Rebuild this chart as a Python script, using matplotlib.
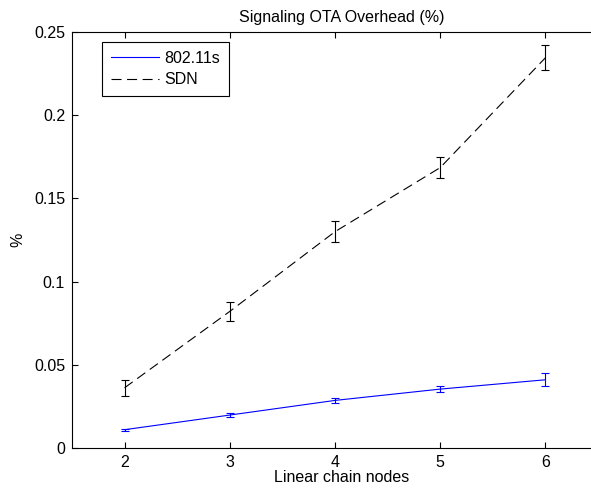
import matplotlib
matplotlib.use("Agg")
import matplotlib.pyplot as plt

# data
nodes = [2, 3, 4, 5, 6]
mesh_vals = [0.0110, 0.0198, 0.0286, 0.0354, 0.0410]
mesh_err = [0.0005, 0.0010, 0.0014, 0.0020, 0.0038]
sdn_vals = [0.0362, 0.0821, 0.1300, 0.1685, 0.2345]
sdn_err = [0.0047, 0.0057, 0.0064, 0.0064, 0.0074]
yticks = [0, 0.05, 0.1, 0.15, 0.2, 0.25]
ytick_labels = ["0", "0.05", "0.1", "0.15", "0.2", "0.25"]

plt.rcParams['font.family'] = ['Liberation Sans', 'DejaVu Sans']
fs = 11.5

fig = plt.figure(figsize=(5.91, 4.91), dpi=100)
# axes runs a bit past the right edge, like the cropped original
ax = fig.add_axes([72 / 591, 43 / 491, 540 / 591, 416 / 491])

ax.plot(nodes, mesh_vals, color='blue', lw=0.8, label='802.11s')
ax.errorbar(nodes, mesh_vals, yerr=mesh_err, fmt='none', ecolor='blue',
            elinewidth=0.8, capsize=3, capthick=0.8)
line, = ax.plot(nodes, sdn_vals, color='black', lw=0.8, ls='--', label='SDN')
line.set_dashes((9, 5))
ax.errorbar(nodes, sdn_vals, yerr=sdn_err, fmt='none', ecolor='black',
            elinewidth=0.8, capsize=3, capthick=0.8)

# x range 1.5..6.5 over 526 px, axes is 540 px wide
ax.set_xlim(1.5, 1.5 + 5 * 540 / 526)
ax.set_ylim(0, 0.25)
ax.set_xticks(nodes)
ax.set_yticks(yticks)
ax.set_yticklabels(ytick_labels)
ax.tick_params(direction='in', top=True, right=True, length=4, width=0.8,
               labelsize=fs, pad=5)
for sp in ax.spines.values():
    sp.set_linewidth(0.8)

ax.set_title("Signaling OTA Overhead (%)", fontsize=fs, pad=7)
ax.set_xlabel("Linear chain nodes", fontsize=fs, labelpad=0)
ax.set_ylabel("%", fontsize=fs, labelpad=6)

leg = ax.legend(loc='upper left', bbox_to_anchor=(30 / 540, 406 / 416),
                borderaxespad=0, fancybox=False, edgecolor='black',
                framealpha=1, fontsize=fs, handlelength=3.0,
                handletextpad=0.35, borderpad=0.55, labelspacing=0.4)
leg.get_frame().set_linewidth(0.8)

fig.savefig("out.png", dpi=100)
